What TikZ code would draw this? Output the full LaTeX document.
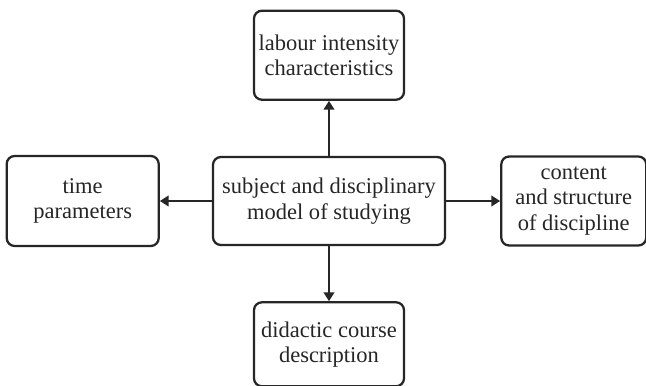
\documentclass[tikz,border=0pt]{standalone}
\usepackage{fontspec}
\setmainfont{Liberation Serif}
\usetikzlibrary{positioning, arrows.meta}

\begin{document}
\begin{tikzpicture}[
    node distance=1.1cm,  % Gap between central model and outer boxes
    % Styles
    block/.style={draw=black!85, line width=1.3pt, rounded corners=4.5pt, align=center, inner sep=0pt, text=black!85, font=\fontsize{12.8}{14.4}\selectfont},
    arrow/.style={-{Triangle[length=5pt, width=6pt]}, line width=1.2pt, black!85},
]

% Frame with the reference margins
\useasboundingbox (-6.58,-3.68) rectangle (6.34,4.02);

% Central model
\node[block, minimum width=4.64cm, minimum height=1.76cm] (model) at (0,0) {subject and disciplinary\\model of studying};

% Labour intensity - above the model
\node[block, minimum width=3cm, minimum height=1.78cm, above=of model] (labour) {labour intensity\\characteristics};
\draw[arrow] (model) -- (labour);

% Time parameters - left of the model
\node[block, minimum width=3.04cm, minimum height=1.8cm, left=1.04cm of model] (time) {time\\parameters};
\draw[arrow] (model) -- (time);

% Content and structure - right of the model
\node[block, minimum width=2.9cm, minimum height=1.78cm, right=1.08cm of model] (content) {content\\and structure\\of discipline};
\draw[arrow] (model) -- (content);

% Didactic description - below the model
\node[block, minimum width=3cm, minimum height=1.68cm, below=of model] (didactic) {didactic course\\description};
\draw[arrow] (model) -- (didactic);

\end{tikzpicture}
\end{document}
